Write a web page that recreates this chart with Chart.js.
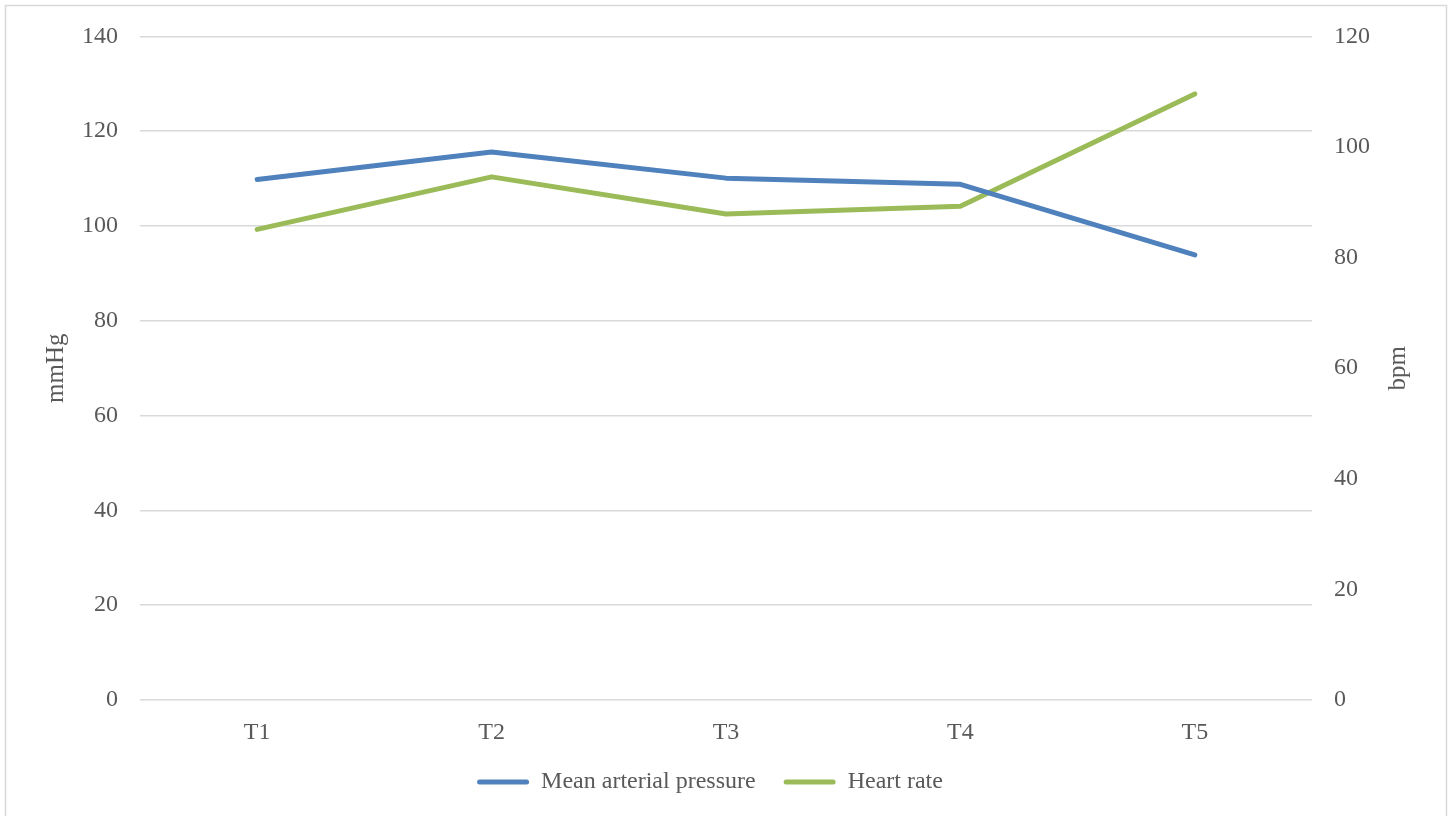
<!DOCTYPE html>
<html>
<head>
<meta charset="utf-8">
<title>Mean arterial pressure and heart rate</title>
<script src="https://cdn.jsdelivr.net/npm/chart.js@4.4.1/dist/chart.umd.min.js"></script>
<style>
  html, body { margin: 0; padding: 0; background: #ffffff; }
  #wrap { position: relative; width: 1452px; height: 816px; }
</style>
</head>
<body>
<div id="wrap"><canvas id="chart" width="1452" height="816"></canvas></div>
<script>
// Time points
const timePoints = ['T1', 'T2', 'T3', 'T4', 'T5'];
// Mean arterial pressure (mmHg, left axis)
const meanArterialPressure = [109.8, 115.6, 110.1, 108.8, 93.9];
// Heart rate (bpm, right axis)
const heartRate = [85.1, 94.6, 87.9, 89.3, 109.6];
// Axis titles
const leftAxisTitle = 'mmHg';
const rightAxisTitle = 'bpm';

const FONT = '"Liberation Serif", "DejaVu Serif", serif';
const FSIZE = 24;
const TEXT = '#595959';
const GRID = '#d9d9d9';
const BLUE = '#4f81bd';
const GREEN = '#9bbb59';

// Light frame around the whole chart
const framePlugin = {
  id: 'frame',
  beforeDraw(chart) {
    const ctx = chart.ctx;
    ctx.save();
    ctx.fillStyle = '#ffffff';
    ctx.fillRect(0, 0, chart.width, chart.height);
    ctx.strokeStyle = GRID;
    ctx.lineWidth = 1.5;
    ctx.strokeRect(5.5, 5.5, chart.width - 11, chart.height + 10);
    ctx.restore();
  }
};

// Both axis titles read bottom-to-top
const axisTitlePlugin = {
  id: 'axisTitles',
  afterDraw(chart) {
    const ctx = chart.ctx;
    const area = chart.chartArea;
    const cy = (area.top + area.bottom) / 2;
    ctx.save();
    ctx.font = '25px ' + FONT;
    ctx.fillStyle = TEXT;
    ctx.textAlign = 'center';
    ctx.textBaseline = 'middle';
    [[area.left - 84, leftAxisTitle], [area.right + 86, rightAxisTitle]].forEach(([x, t]) => {
      ctx.save();
      ctx.translate(x, cy);
      ctx.rotate(-Math.PI / 2);
      ctx.fillText(t, 0, 0);
      ctx.restore();
    });
    ctx.restore();
  }
};

new Chart(document.getElementById('chart'), {
  type: 'line',
  data: {
    labels: timePoints,
    datasets: [
      {
        label: 'Mean arterial pressure',
        data: meanArterialPressure,
        yAxisID: 'y',
        borderColor: BLUE,
        backgroundColor: BLUE,
        borderWidth: 5,
        borderCapStyle: 'round',
        borderJoinStyle: 'round',
        pointRadius: 0,
        tension: 0
      },
      {
        label: 'Heart rate',
        data: heartRate,
        yAxisID: 'y1',
        borderColor: GREEN,
        backgroundColor: GREEN,
        borderWidth: 5,
        borderCapStyle: 'round',
        borderJoinStyle: 'round',
        pointRadius: 0,
        tension: 0
      }
    ]
  },
  options: {
    responsive: false,
    animation: false,
    // the right padding shifts the legend row; the right axis is narrowed to keep the plot width
    layout: { padding: { top: 35, left: 0, right: 32, bottom: 12 } },
    plugins: {
      tooltip: { enabled: false },
      legend: {
        position: 'bottom',
        labels: {
          font: { family: FONT, size: FSIZE },
          color: TEXT,
          boxWidth: 52,
          boxHeight: 5,
          useBorderRadius: true,
          borderRadius: 2.5,
          padding: 28,
          generateLabels(chart) {
            const items = Chart.defaults.plugins.legend.labels.generateLabels(chart);
            items.forEach(it => { it.lineWidth = 0; it.fillStyle = it.strokeStyle; });
            return items;
          }
        }
      }
    },
    scales: {
      x: {
        offset: true,
        grid: { display: false },
        border: { display: false },
        ticks: { font: { family: FONT, size: FSIZE }, color: TEXT, padding: 10 },
        afterFit(scale) { scale.height = 42; }
      },
      y: {
        position: 'left',
        min: 0,
        max: 140,
        ticks: { stepSize: 20, font: { family: FONT, size: FSIZE }, color: TEXT, padding: 22 },
        grid: { color: GRID, lineWidth: 1.5, drawTicks: false },
        border: { display: false },
        afterFit(scale) { scale.width = 140; }
      },
      y1: {
        position: 'right',
        min: 0,
        max: 120,
        ticks: { stepSize: 20, font: { family: FONT, size: FSIZE }, color: TEXT, padding: 22 },
        grid: { display: false, drawTicks: false },
        border: { display: false },
        afterFit(scale) { scale.width = 108; }
      }
    }
  },
  plugins: [framePlugin, axisTitlePlugin]
});
</script>
</body>
</html>
